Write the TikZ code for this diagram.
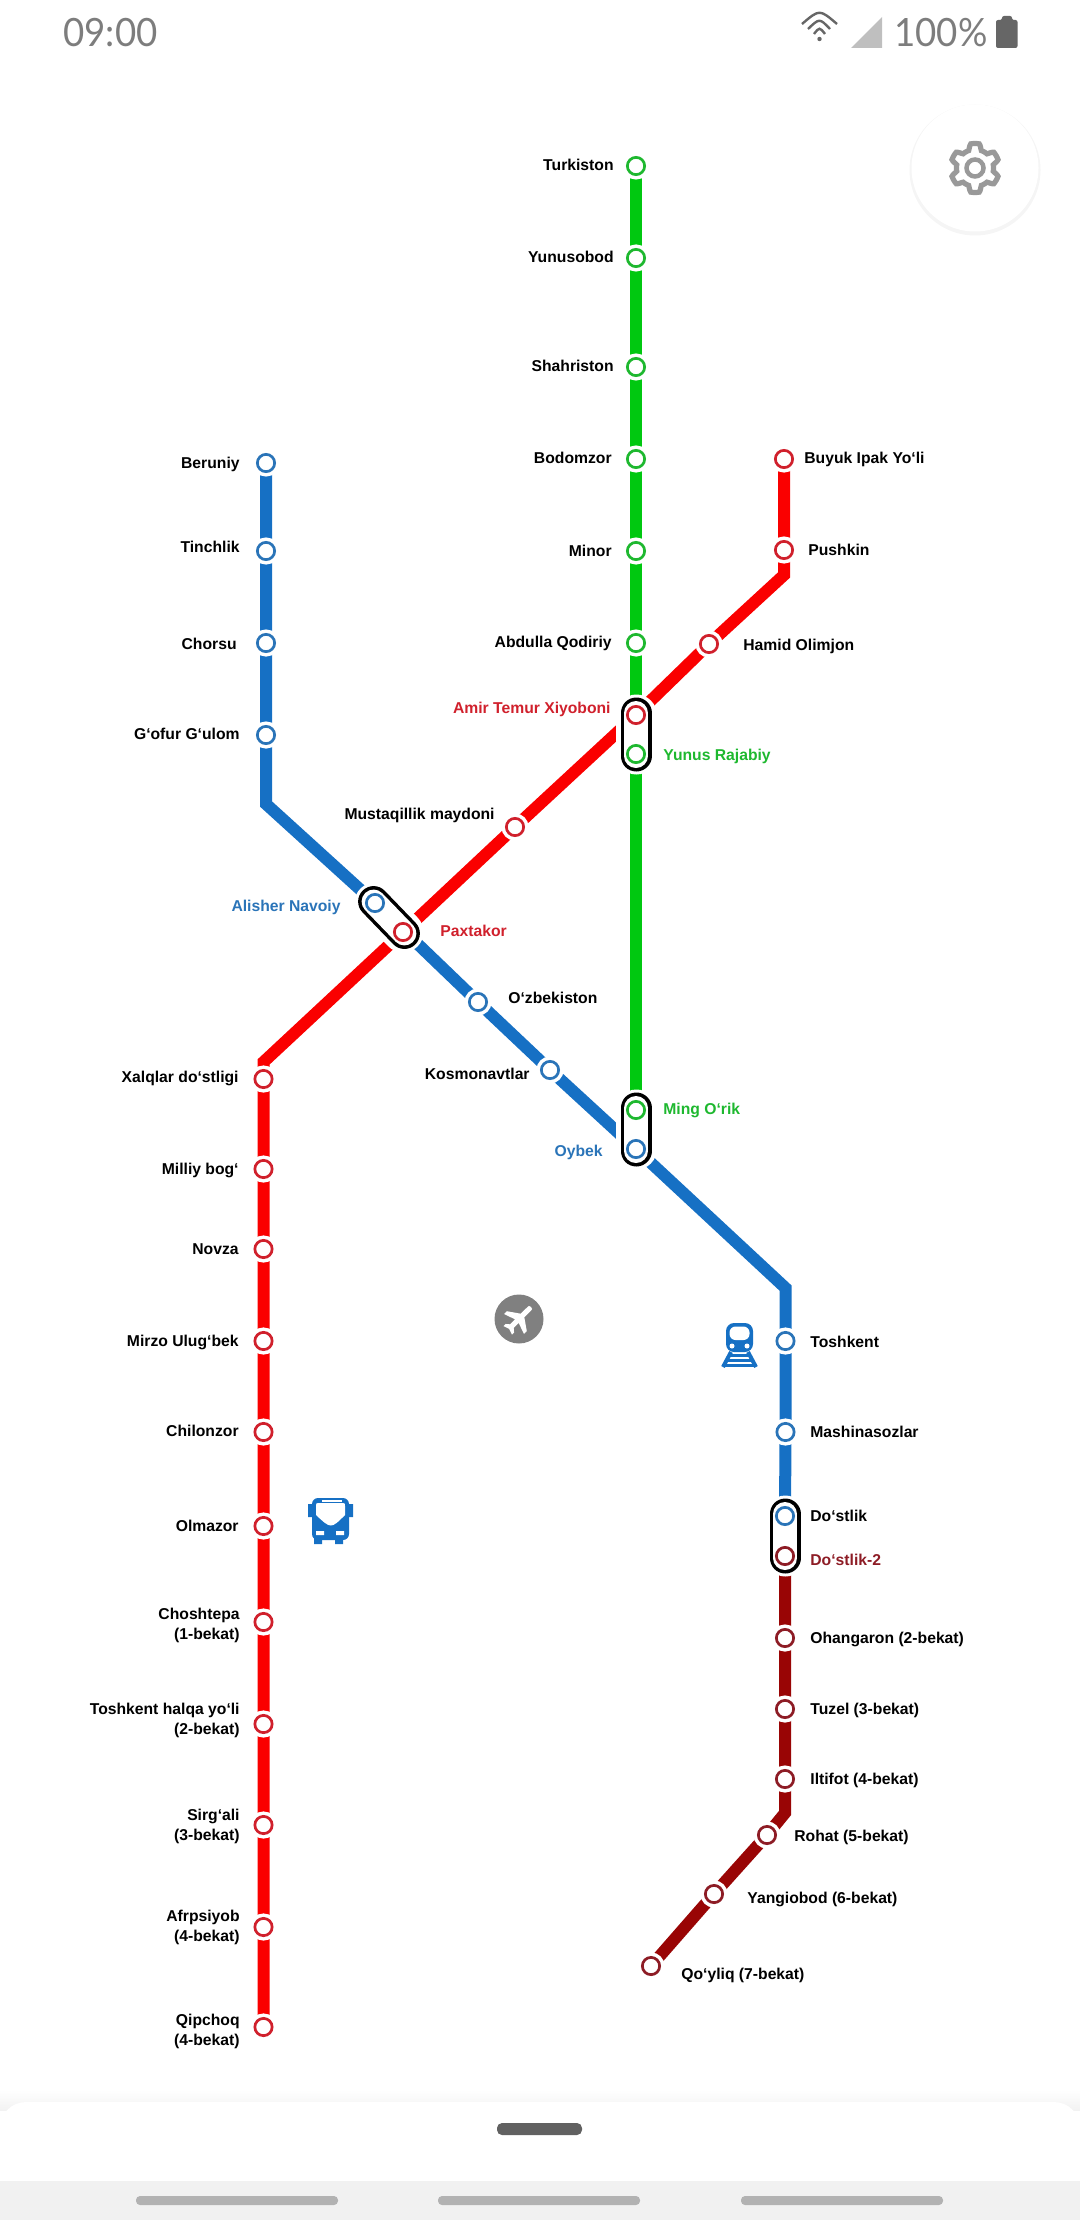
\documentclass[tikz,border=0pt]{standalone}
\usepackage{fontspec}
\setmainfont{Liberation Sans}
\newfontfamily\statfont{Lato}
\pgfdeclarelayer{lines}
\pgfdeclarelayer{caps}
\pgfsetlayers{lines,caps,main}
\definecolor{lnG}{RGB}{0,200,16}
\definecolor{lnR}{RGB}{250,0,0}
\definecolor{lnB}{RGB}{22,112,196}
\definecolor{lnD}{RGB}{153,5,5}
\definecolor{ringG}{RGB}{30,184,47}
\definecolor{ringR}{RGB}{208,32,44}
\definecolor{ringB}{RGB}{42,116,184}
\definecolor{ringD}{RGB}{141,28,37}
\definecolor{statC}{RGB}{102,102,102}
\tikzset{
    x=.5pt, y=-.5pt,
    stx/.style={circle, inner sep=0, minimum size=8.65pt, line width=1.35pt, draw=#1, fill=white},
    stn/.style={stx=#1, preaction={draw=white, line width=4.85pt}},
    metro/.style={line width=6pt, draw=#1, miter limit=10},
    lbl/.style={font=\bfseries\fontsize{7.85}{10}\selectfont, inner sep=0, yshift=-.5pt},
    lbL/.style={lbl, anchor=mid east, align=right},
    lbR/.style={lbl, anchor=mid west, align=left},
    statT/.style={font=\statfont\fontsize{19.5}{22}\selectfont, text=statC!85, inner sep=0, anchor=base west, xscale=.94, transform shape},
}
\newcommand{\stn}[4]{\node[stn=#2](#1)at(#3, #4){}}
\newcommand{\stx}[4]{\node[stx=#2](#1)at(#3, #4){}}
\newcommand{\capsule}[2]{
	\begin{pgfonlayer}{caps}
	\draw[white, line width=20.5pt, line cap=round](#1.center)--(#2.center);
	\draw[black, line width=15.5pt, line cap=round, shorten <=-1pt, shorten >=-1pt](#1.center)--(#2.center);
	\draw[white, line width=12pt, line cap=round, shorten <=-1pt, shorten >=-1pt](#1.center)--(#2.center);
	\end{pgfonlayer}
}

\begin{document}
\begin{tikzpicture}
    \useasboundingbox(0, 0)rectangle(1080, 2220);
    \stn{turkiston}{ringG}{636}{166}; \node[lbL](turkistonL)at(614, 164){Turkiston};
    \stn{yunusobod}{ringG}{636}{258}; \node[lbL](yunusobodL)at(614, 256){Yunusobod};
    \stn{shahriston}{ringG}{636}{367}; \node[lbL](shahristonL)at(614, 365){Shahriston};
    \stn{bodomzor}{ringG}{636}{459}; \node[lbL](bodomzorL)at(612, 457){Bodomzor};
    \stn{minor}{ringG}{636}{551}; \node[lbL](minorL)at(612, 550){Minor};
    \stn{abdulla}{ringG}{636}{643}; \node[lbL](abdullaL)at(612, 641){Abdulla Qodiriy};
    \stx{yunus}{ringG}{636}{754}; \node[lbR, text=ringG](yunusL)at(663, 754){Yunus Rajabiy};
    \stx{ming}{ringG}{636}{1110}; \node[lbR, text=ringG](mingL)at(663, 1108){Ming O‘rik};

    \stn{buyuk}{ringR}{784}{459}; \node[lbR](buyukL)at(804, 457){Buyuk Ipak Yo‘li};
    \stn{pushkin}{ringR}{784}{550}; \node[lbR](pushkinL)at(808, 549){Pushkin};
    \coordinate(redTop)at(784, 575);
    \stn{hamid}{ringR}{709}{644}; \node[lbR](hamidL)at(743, 644){Hamid Olimjon};
    \stx{amir}{ringR}{636}{715}; \node[lbL, text=ringR](amirL)at(611, 707){Amir Temur Xiyoboni};
    \stn{mustaqillik}{ringR}{515}{827}; \node[lbL](mustaqillikL)at(495, 813){Mustaqillik maydoni};
    \stx{paxtakor}{ringR}{403}{932}; \node[lbR, text=ringR](paxtakorL)at(440, 930){Paxtakor};
    \coordinate(redBend)at(263.5, 1062);
    \stn{xalqlar}{ringR}{263.5}{1079}; \node[lbL](xalqlarL)at(239, 1076){Xalqlar do‘stligi};
    \stn{milliy}{ringR}{263.5}{1169}; \node[lbL](milliyL)at(239, 1168){Milliy bog‘};
    \stn{novza}{ringR}{263.5}{1249}; \node[lbL](novzaL)at(239, 1248){Novza};
    \stn{mirzo}{ringR}{263.5}{1341}; \node[lbL](mirzoL)at(239, 1340){Mirzo Ulug‘bek};
    \stn{chilonzor}{ringR}{263.5}{1432}; \node[lbL](chilonzorL)at(239, 1430){Chilonzor};
    \stn{olmazor}{ringR}{263.5}{1526}; \node[lbL](olmazorL)at(239, 1525){Olmazor};
    \stn{choshtepa}{ringR}{263.5}{1622}; \node[lbL, anchor=east](choshtepaL)at(240, 1624){Choshtepa\\(1-bekat)};
    \stn{halqa}{ringR}{263.5}{1724}; \node[lbL, anchor=east](halqaL)at(240, 1719){Toshkent halqa yo‘li\\(2-bekat)};
    \stn{sirgali}{ringR}{263.5}{1825}; \node[lbL, anchor=east](sirgaliL)at(240, 1825){Sirg‘ali\\(3-bekat)};
    \stn{afrpsiyob}{ringR}{263.5}{1927}; \node[lbL, anchor=east](afrpsiyobL)at(240, 1926){Afrpsiyob\\(4-bekat)};
    \stn{qipchoq}{ringR}{263.5}{2027}; \node[lbL, anchor=east](qipchoqL)at(240, 2030){Qipchoq\\(4-bekat)};

    \stn{beruniy}{ringB}{266}{463}; \node[lbL](beruniyL)at(240, 462){Beruniy};
    \stn{tinchlik}{ringB}{266}{551}; \node[lbL](tinchlikL)at(240, 546){Tinchlik};
    \stn{chorsu}{ringB}{266}{643}; \node[lbL](chorsuL)at(237, 643){Chorsu};
    \stn{gofur}{ringB}{266}{735}; \node[lbL](gofurL)at(240, 733){G‘ofur G‘ulom};
    \coordinate(blueBend)at(266, 804);
    \stx{alisher}{ringB}{375}{903}; \node[lbL, text=ringB](alisherL)at(341, 905){Alisher Navoiy};
    \stn{uzbek}{ringB}{478}{1002}; \node[lbR](uzbekL)at(508, 997){O‘zbekiston};
    \stn{kosmonavt}{ringB}{550}{1070}; \node[lbL](kosmonavtL)at(530, 1073){Kosmonavtlar};
    \stx{oybek}{ringB}{636}{1149}; \node[lbL, text=ringB](oybekL)at(603, 1150){Oybek};
    \coordinate(blueLow)at(785.5, 1288);
    \stn{toshkent}{ringB}{785.5}{1341}; \node[lbR](toshkentL)at(810, 1341){Toshkent};
    \stn{mashina}{ringB}{785.5}{1432}; \node[lbR](mashinaL)at(810, 1431){Mashinasozlar};
    \stx{dostlik}{ringB}{785}{1516}; \node[lbR](dostlikL)at(810, 1515){Do‘stlik};

    \stx{dostlikB}{ringD}{785}{1556}; \node[lbR, text=ringD](dostlikBL)at(810, 1559){Do‘stlik-2};
    \stn{ohangaron}{ringD}{785}{1638}; \node[lbR](ohangaronL)at(810, 1637){Ohangaron (2-bekat)};
    \stn{tuzel}{ringD}{785}{1709}; \node[lbR](tuzelL)at(810, 1708){Tuzel (3-bekat)};
    \stn{iltifot}{ringD}{785}{1779}; \node[lbR](iltifotL)at(810, 1778){Iltifot (4-bekat)};
    \coordinate(darkBend)at(785, 1813);
    \stn{rohat}{ringD}{767}{1835}; \node[lbR](rohatL)at(794, 1835){Rohat (5-bekat)};
    \stn{yangiobod}{ringD}{714}{1894}; \node[lbR](yangiobodL)at(747, 1897){Yangiobod (6-bekat)};
    \stn{qoyliq}{ringD}{651}{1966}; \node[lbR](qoyliqL)at(681, 1973){Qo‘yliq (7-bekat)};

    \begin{pgfonlayer}{lines}
    \draw[metro=lnG](turkiston)--(yunusobod)--(shahriston)--(bodomzor)--(minor)--(abdulla)--(yunus)--(ming);
    \draw[metro=lnR](buyuk)--(pushkin)--(redTop)--(hamid)--(amir)--(mustaqillik)--(paxtakor)--(redBend)--(xalqlar)--(milliy)--(novza)--(mirzo)--(chilonzor)--(olmazor)--(choshtepa)--(halqa)--(sirgali)--(afrpsiyob)--(qipchoq);
    \draw[metro=lnB](beruniy)--(tinchlik)--(chorsu)--(gofur)--(blueBend)--(alisher)--(uzbek)--(kosmonavt)--(oybek)--(blueLow)--(toshkent)--(mashina)--(dostlik);
    \draw[metro=lnD](dostlikB)--(ohangaron)--(tuzel)--(iltifot)--(darkBend)--(rohat)--(yangiobod)--(qoyliq);
    \end{pgfonlayer}
    \capsule{amir}{yunus}
    \capsule{alisher}{paxtakor}
    \capsule{ming}{oybek}
    \capsule{dostlik}{dostlikB}

    \node[statT](clock)at(63, 47){09:00};
    \node[statT](percent)at(894, 47){100\%};
    \draw[statC, line width=1.2pt](802, 24)..controls(819.5, 9)..(837, 24);
    \draw[statC, line width=1.2pt](808, 29)..controls(819.5, 18)..(830, 29);
    \draw[statC, line width=1.2pt](814, 34)..controls(819.5, 27)..(825, 34);
    \fill[statC](819.5, 39)circle(2.2);
    \fill[gray!50](851, 48)--(882, 17)--(882, 48)--cycle;
    \fill[statC, rounded corners=1pt](996, 20)--(1002, 20)--(1002, 16)--(1012, 16)--(1012, 20)--(1017.5, 20)--(1017.5, 48)--(996, 48)--cycle;

    \fill[black!4](975, 170)circle(65.5);
    \fill[white](975, 168)circle(63.5);
    \draw[gray!80, line width=2.6pt, shift={(975, 168)}]plot[domain=0:360, samples=145](\x:{21.5-3*max(-1, min(1, 2.2*cos(6*\x)))})--cycle;
    \draw[gray!80, line width=2.25pt](975, 168)circle(8.5);

    \fill[black!50](519, 1319)circle(24.5);
    \fill[white, shift={(519, 1319)}, rotate=-45](0, -17)..controls(2.5, -17)..(2.5, -12)--(2.5, -5)--(14, 3)--(14, 7)--(2.5, 3)--(2.5, 10)--(6, 13)--(6, 16)--(0, 14)--(-6, 16)--(-6, 13)--(-2.5, 10)--(-2.5, 3)--(-14, 7)--(-14, 3)--(-2.5, -5)--(-2.5, -12)..controls(-2.5, -17)..(0, -17)--cycle;

    \fill[lnB, rounded corners=4pt](726, 1323)rectangle(753, 1352);
    \fill[white, rounded corners=3pt](729.5, 1326.5)rectangle(749.5, 1340);
    \fill[white](732, 1346)circle(2.5)(747, 1346)circle(2.5);
    \draw[lnB, line width=2pt](731, 1352)--(723, 1367)(748, 1352)--(756, 1367);
    \draw[lnB, line width=1.3pt](729, 1355.5)--(750, 1355.5)(726, 1360.5)--(753, 1360.5)(724, 1365.5)--(755, 1365.5);

    \fill[lnB](314, 1538)rectangle(322, 1544)(335, 1538)rectangle(343, 1544);
    \fill[lnB](308, 1504)rectangle(312, 1517)(349, 1504)rectangle(353, 1517);
    \fill[lnB, rounded corners=3pt](312, 1498)rectangle(349, 1540);
    \fill[white](316, 1506)..controls(316, 1503)..(319, 1503)--(342, 1503)..controls(345, 1503)..(345, 1506)--(345, 1515)..controls(331, 1529)..(316, 1515)--cycle;
    \fill[white](322, 1499.5)rectangle(342, 1502);
    \fill[white](316, 1531)rectangle(324, 1535)(336, 1531)rectangle(344, 1535);

    \shade[top color=white, bottom color=black!5](0, 2090)rectangle(1080, 2110);
    \fill[white, rounded corners=13pt](0, 2102)--(1080, 2102)--(1080, 2240)--(0, 2240)--cycle;
    \fill[black!62, rounded corners=2.5pt](497, 2123)rectangle(582, 2135);
    \fill[black!5.5](0, 2181)rectangle(1080, 2220);
    \fill[black!30, rounded corners=2pt](136, 2196)rectangle(338, 2205);
    \fill[black!30, rounded corners=2pt](438, 2196)rectangle(640, 2205);
    \fill[black!30, rounded corners=2pt](741, 2196)rectangle(943, 2205);
\end{tikzpicture}
\end{document}
